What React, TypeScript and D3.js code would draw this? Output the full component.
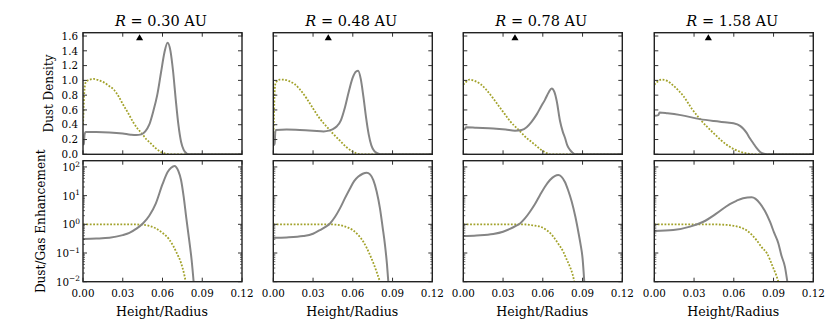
import React, { useRef, useEffect } from 'react';
import * as d3 from 'd3';

type Pt = [number, number];

// panel titles and marker positions
const radii = ['0.30', '0.48', '0.78', '1.58'];
const markerX = [0.0427, 0.0415, 0.039, 0.0408];
const markerY = 1.57;

// tick values
const xTicks = [0, 0.03, 0.06, 0.09, 0.12];
const densityTicks = [0, 0.2, 0.4, 0.6, 0.8, 1.0, 1.2, 1.4, 1.6];
const ratioTicks = [0.01, 0.1, 1, 10, 100];
const ratioExponents = ['\u22122', '\u22121', '0', '1', '2'];

// top row: dust density (solid) and gas density (dotted), [height/radius, value]
const dustDensity030: Pt[] = [[0, 0.13], [0.0006, 0.14], [0.0012, 0.27], [0.002, 0.3], [0.01, 0.3], [0.02, 0.295], [0.03, 0.28], [0.036, 0.265], [0.04, 0.26], [0.044, 0.27], [0.047, 0.31], [0.05, 0.4], [0.053, 0.58], [0.056, 0.8], [0.059, 1.12], [0.0615, 1.38], [0.0638, 1.51], [0.066, 1.4], [0.068, 1.12], [0.07, 0.74], [0.072, 0.4], [0.074, 0.17], [0.076, 0.06], [0.078, 0.015], [0.08, 0], [0.12, 0]];
const gasDensity030: Pt[] = [[0, 0.4], [0.0005, 0.62], [0.001, 0.85], [0.002, 0.97], [0.005, 1.01], [0.008, 1.02], [0.012, 1.0], [0.016, 0.97], [0.02, 0.92], [0.023, 0.88], [0.027, 0.78], [0.03, 0.68], [0.034, 0.56], [0.038, 0.43], [0.042, 0.33], [0.0445, 0.28], [0.048, 0.2], [0.051, 0.15], [0.055, 0.08], [0.058, 0.04], [0.061, 0.015], [0.064, 0.003], [0.066, 0], [0.12, 0]];
const dustDensity048: Pt[] = [[0, 0.12], [0.001, 0.14], [0.0015, 0.3], [0.002, 0.33], [0.01, 0.335], [0.02, 0.33], [0.03, 0.32], [0.038, 0.31], [0.042, 0.32], [0.045, 0.34], [0.048, 0.38], [0.051, 0.46], [0.054, 0.63], [0.057, 0.85], [0.06, 1.04], [0.0625, 1.12], [0.064, 1.13], [0.066, 1.02], [0.068, 0.78], [0.07, 0.5], [0.072, 0.27], [0.074, 0.12], [0.076, 0.05], [0.078, 0.02], [0.08, 0.005], [0.082, 0], [0.12, 0]];
const gasDensity048: Pt[] = [[0, 0.15], [0.0005, 0.5], [0.001, 0.85], [0.0018, 0.97], [0.005, 1.01], [0.008, 1.01], [0.012, 0.99], [0.016, 0.95], [0.02, 0.88], [0.025, 0.76], [0.03, 0.62], [0.034, 0.51], [0.038, 0.42], [0.0415, 0.35], [0.045, 0.28], [0.05, 0.19], [0.055, 0.1], [0.06, 0.035], [0.063, 0.012], [0.066, 0], [0.12, 0]];
const dustDensity078: Pt[] = [[0, 0.335], [0.0012, 0.34], [0.002, 0.367], [0.01, 0.36], [0.0226, 0.35], [0.032, 0.335], [0.039, 0.32], [0.044, 0.33], [0.0478, 0.367], [0.0515, 0.44], [0.0554, 0.54], [0.0585, 0.64], [0.0617, 0.74], [0.0645, 0.84], [0.0667, 0.89], [0.0688, 0.84], [0.0705, 0.72], [0.073, 0.45], [0.075, 0.31], [0.0768, 0.22], [0.0785, 0.12], [0.0805, 0.06], [0.0825, 0.02], [0.0845, 0], [0.12, 0]];
const gasDensity078: Pt[] = [[0, 0.94], [0.0015, 0.97], [0.0046, 1.01], [0.009, 0.99], [0.013, 0.95], [0.017, 0.88], [0.022, 0.77], [0.0277, 0.63], [0.0315, 0.54], [0.0352, 0.45], [0.0415, 0.335], [0.0478, 0.22], [0.052, 0.16], [0.0554, 0.11], [0.058, 0.07], [0.0604, 0.04], [0.063, 0.015], [0.0654, 0], [0.12, 0]];
const dustDensity158: Pt[] = [[0, 0.52], [0.003, 0.53], [0.004, 0.565], [0.01, 0.555], [0.02, 0.53], [0.0345, 0.476], [0.045, 0.45], [0.055, 0.43], [0.0597, 0.42], [0.0647, 0.385], [0.067, 0.35], [0.0697, 0.29], [0.072, 0.22], [0.0747, 0.15], [0.077, 0.09], [0.0797, 0.035], [0.082, 0.01], [0.085, 0], [0.12, 0]];
const gasDensity158: Pt[] = [[0, 0.94], [0.0055, 1.01], [0.01, 0.99], [0.0143, 0.93], [0.0219, 0.79], [0.0282, 0.62], [0.0345, 0.476], [0.0445, 0.29], [0.0546, 0.13], [0.06, 0.07], [0.0647, 0.035], [0.07, 0.012], [0.0747, 0], [0.12, 0]];

// bottom row: dust/gas enhancement (solid) and gas reference (dotted)
const dustRatio030: Pt[] = [[0, 0.31], [0.01, 0.32], [0.02, 0.34], [0.03, 0.42], [0.035, 0.5], [0.04, 0.69], [0.045, 1.05], [0.05, 2.0], [0.055, 5.4], [0.06, 25], [0.064, 68], [0.0665, 93], [0.069, 108], [0.072, 71], [0.074, 35], [0.076, 9], [0.078, 1.6], [0.08, 0.32], [0.082, 0.056], [0.0835, 0.01]];
const gasRatio030: Pt[] = [[0, 1], [0.035, 1], [0.04, 0.99], [0.045, 0.97], [0.05, 0.88], [0.055, 0.72], [0.06, 0.5], [0.065, 0.3], [0.068, 0.18], [0.071, 0.095], [0.074, 0.045], [0.0765, 0.017], [0.0775, 0.01]];
const dustRatio048: Pt[] = [[0, 0.34], [0.01, 0.35], [0.0226, 0.39], [0.03, 0.47], [0.0352, 0.63], [0.04, 0.85], [0.0428, 1.07], [0.0465, 1.8], [0.0503, 3.6], [0.054, 8], [0.0579, 17.8], [0.061, 32], [0.0642, 46], [0.0675, 58], [0.0705, 63], [0.073, 55], [0.0755, 35], [0.078, 14], [0.0805, 3.6], [0.0825, 0.8], [0.0843, 0.19], [0.0858, 0.04], [0.0868, 0.01]];
const gasRatio048: Pt[] = [[0, 1], [0.04, 1], [0.048, 0.97], [0.052, 0.9], [0.056, 0.78], [0.06, 0.63], [0.064, 0.43], [0.068, 0.245], [0.073, 0.085], [0.0755, 0.045], [0.078, 0.022], [0.0805, 0.01]];
const dustRatio078: Pt[] = [[0, 0.39], [0.01, 0.41], [0.0226, 0.46], [0.03, 0.55], [0.0352, 0.69], [0.04, 0.9], [0.0428, 1.07], [0.0465, 1.6], [0.0503, 2.75], [0.054, 5], [0.0579, 10.5], [0.0615, 20], [0.0654, 35], [0.069, 48], [0.0717, 52], [0.074, 46], [0.0767, 30], [0.079, 16], [0.0818, 6.2], [0.0845, 1.9], [0.0868, 0.55], [0.0885, 0.2], [0.09, 0.066], [0.0913, 0.01]];
const gasRatio078: Pt[] = [[0, 1], [0.045, 1], [0.05, 0.96], [0.054, 0.9], [0.058, 0.83], [0.063, 0.62], [0.068, 0.37], [0.072, 0.2], [0.0755, 0.11], [0.078, 0.06], [0.0805, 0.033], [0.0825, 0.018], [0.0838, 0.01]];
const dustRatio158: Pt[] = [[0, 0.59], [0.0143, 0.63], [0.027, 0.83], [0.037, 1.23], [0.047, 2.4], [0.057, 5.1], [0.062, 6.6], [0.067, 8.1], [0.0735, 8.7], [0.0797, 5.4], [0.0835, 2.9], [0.0873, 1.23], [0.0905, 0.5], [0.0936, 0.22], [0.096, 0.08], [0.0986, 0.033], [0.1004, 0.01]];
const gasRatio158: Pt[] = [[0, 1], [0.045, 1], [0.05, 0.98], [0.055, 0.95], [0.06, 0.89], [0.0647, 0.79], [0.07, 0.6], [0.0772, 0.28], [0.081, 0.16], [0.085, 0.098], [0.0898, 0.03], [0.092, 0.017], [0.0936, 0.01]];

const dustDensity = [dustDensity030, dustDensity048, dustDensity078, dustDensity158];
const gasDensity = [gasDensity030, gasDensity048, gasDensity078, gasDensity158];
const dustRatio = [dustRatio030, dustRatio048, dustRatio078, dustRatio158];
const gasRatio = [gasRatio030, gasRatio048, gasRatio078, gasRatio158];

const DUST = '#858585';
const GAS = '#a2a22a';
const FONT = '"DejaVu Serif", "Liberation Serif", serif';

// scale a text's font size so that it spans the given width
const fitWidth = (sel: d3.Selection<SVGTextElement, unknown, null, undefined>, target: number) => {
    const node = sel.node();
    if (!node) return 1;
    const len = node.getComputedTextLength();
    if (!len) return 1;
    const k = target / len;
    sel.attr('font-size', +sel.attr('font-size') * k);
    sel.selectAll('tspan[font-size]').each(function () {
        const t = d3.select(this as SVGTSpanElement);
        t.attr('font-size', +t.attr('font-size') * k);
    });
    return k;
};

const App = () => {
    const ref = useRef<SVGSVGElement>(null);

    useEffect(() => {
        const svg = d3.select(ref.current);
        svg.selectAll('*').remove();
        svg.attr('font-family', FONT);

        // tick label size from the width of "0.00" in the reference (23px)
        const probe = svg.append('text').attr('font-size', 11).text('0.00');
        const tickSize = 11 * fitWidth(probe as any, 23);
        probe.remove();
        const supSize = tickSize * 0.72;

        const panelLeft = [83, 273.3, 463.3, 654.3];
        const w = 159;
        const topY = 32.7, topH = 121.6;
        const botY = 160.7, botH = 121;

        const x = d3.scaleLinear().domain([0, 0.12]).range([0, w]);
        const yD = d3.scaleLinear().domain([0, 1.645]).range([topH, 0]);
        const yR = d3.scaleLog().domain([0.01, 165]).range([botH, 0]);

        const lineD = d3.line<Pt>().x(d => x(d[0])).y(d => yD(d[1])).curve(d3.curveMonotoneX);
        const lineR = d3.line<Pt>().x(d => x(d[0])).y(d => yR(d[1])).curve(d3.curveMonotoneX);

        const defs = svg.append('defs');
        defs.append('clipPath').attr('id', 'clipTop')
            .append('rect').attr('width', w).attr('height', topH);
        defs.append('clipPath').attr('id', 'clipBot')
            .append('rect').attr('width', w).attr('height', botH);

        const tickColor = '#333';
        const minor: number[] = [];
        [0.01, 0.1, 1, 10, 100].forEach(dec => {
            for (let k = 2; k <= 9; k++) {
                if (dec * k < 165) minor.push(dec * k);
            }
        });

        radii.forEach((r, i) => {
            // ---- top panel: density
            const gt = svg.append('g').attr('transform', `translate(${panelLeft[i]},${topY})`);
            const ct = gt.append('g').attr('clip-path', 'url(#clipTop)');
            ct.append('path').attr('d', lineD(gasDensity[i]) as string)
                .attr('fill', 'none').attr('stroke', GAS).attr('stroke-width', 1.8)
                .attr('stroke-dasharray', '1.8,1.6');
            ct.append('path').attr('d', lineD(dustDensity[i]) as string)
                .attr('fill', 'none').attr('stroke', DUST).attr('stroke-width', 2);

            xTicks.forEach(t => {
                gt.append('line').attr('x1', x(t)).attr('x2', x(t)).attr('y1', topH).attr('y2', topH - 4)
                    .attr('stroke', tickColor);
                gt.append('line').attr('x1', x(t)).attr('x2', x(t)).attr('y1', 0).attr('y2', 4)
                    .attr('stroke', tickColor);
            });
            densityTicks.forEach(t => {
                gt.append('line').attr('x1', 0).attr('x2', 4).attr('y1', yD(t)).attr('y2', yD(t))
                    .attr('stroke', tickColor);
                gt.append('line').attr('x1', w).attr('x2', w - 4).attr('y1', yD(t)).attr('y2', yD(t))
                    .attr('stroke', tickColor);
                if (i === 0) {
                    gt.append('text').attr('x', -5).attr('y', yD(t) + tickSize * 0.36)
                        .attr('text-anchor', 'end').attr('font-size', tickSize)
                        .text(d3.format('.1f')(t));
                }
            });

            gt.append('path')
                .attr('d', d3.symbol(d3.symbolTriangle, 22)() as string)
                .attr('transform', `translate(${x(markerX[i])},${yD(markerY)})`)
                .attr('fill', '#000');

            gt.append('rect').attr('width', w).attr('height', topH)
                .attr('fill', 'none').attr('stroke', '#222').attr('stroke-width', 1.4);

            const title = gt.append('text').attr('x', w / 2 - 1.5).attr('y', -6.5)
                .attr('text-anchor', 'middle').attr('font-size', 14.5);
            title.append('tspan').attr('font-style', 'italic').text('R');
            title.append('tspan').text(` = ${r} AU`);
            fitWidth(title as any, 92);

            // ---- bottom panel: enhancement
            const gb = svg.append('g').attr('transform', `translate(${panelLeft[i]},${botY})`);
            const cb = gb.append('g').attr('clip-path', 'url(#clipBot)');
            cb.append('path').attr('d', lineR(gasRatio[i]) as string)
                .attr('fill', 'none').attr('stroke', GAS).attr('stroke-width', 1.8)
                .attr('stroke-dasharray', '1.8,1.6');
            cb.append('path').attr('d', lineR(dustRatio[i]) as string)
                .attr('fill', 'none').attr('stroke', DUST).attr('stroke-width', 2);

            xTicks.forEach(t => {
                gb.append('line').attr('x1', x(t)).attr('x2', x(t)).attr('y1', botH).attr('y2', botH - 4)
                    .attr('stroke', tickColor);
                gb.append('line').attr('x1', x(t)).attr('x2', x(t)).attr('y1', 0).attr('y2', 4)
                    .attr('stroke', tickColor);
                gb.append('text').attr('x', x(t)).attr('y', botH + 15)
                    .attr('text-anchor', 'middle').attr('font-size', tickSize)
                    .text(d3.format('.2f')(t));
            });
            ratioTicks.forEach((t, k) => {
                gb.append('line').attr('x1', 0).attr('x2', 4).attr('y1', yR(t)).attr('y2', yR(t))
                    .attr('stroke', tickColor);
                gb.append('line').attr('x1', w).attr('x2', w - 4).attr('y1', yR(t)).attr('y2', yR(t))
                    .attr('stroke', tickColor);
                if (i === 0) {
                    const lbl = gb.append('text').attr('x', -3).attr('y', yR(t) + tickSize * 0.38)
                        .attr('text-anchor', 'end').attr('font-size', tickSize);
                    lbl.append('tspan').text('10');
                    lbl.append('tspan').attr('dy', -tickSize * 0.4).attr('font-size', supSize).text(ratioExponents[k]);
                }
            });
            minor.forEach(t => {
                gb.append('line').attr('x1', 0).attr('x2', 2).attr('y1', yR(t)).attr('y2', yR(t))
                    .attr('stroke', tickColor).attr('stroke-width', 0.7);
                gb.append('line').attr('x1', w).attr('x2', w - 2).attr('y1', yR(t)).attr('y2', yR(t))
                    .attr('stroke', tickColor).attr('stroke-width', 0.7);
            });

            gb.append('rect').attr('width', w).attr('height', botH)
                .attr('fill', 'none').attr('stroke', '#222').attr('stroke-width', 1.4);

            const xl = gb.append('text').attr('x', w / 2 - 0.5).attr('y', botH + 34.5)
                .attr('text-anchor', 'middle').attr('font-size', 12.5)
                .text('Height/Radius');
            fitWidth(xl as any, 92);
        });

        // y axis labels
        const yl1 = svg.append('text').attr('transform', `translate(53,${topY + topH / 2}) rotate(-90)`)
            .attr('text-anchor', 'middle').attr('font-size', 12).text('Dust Density');
        fitWidth(yl1 as any, 78);
        const yl2 = svg.append('text').attr('transform', `translate(45,${botY + botH / 2}) rotate(-90)`)
            .attr('text-anchor', 'middle').attr('font-size', 12).text('Dust/Gas Enhancement');
        fitWidth(yl2 as any, 144);
    }, []);

    return (
        <svg ref={ref} width={830} height={332} style={{ position: 'absolute', left: 0, top: 0 }}></svg>
    );
};

export default App;
